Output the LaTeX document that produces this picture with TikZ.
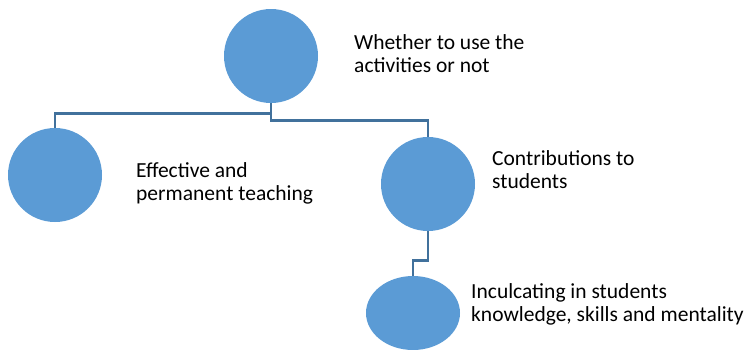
\documentclass[tikz,border=0pt]{standalone}
\usepackage{fontspec}
\setmainfont{Carlito}
\usetikzlibrary{shapes.geometric}
\definecolor{ballblue}{HTML}{5B9BD5}
\definecolor{linkblue}{HTML}{41719C}
\tikzset{
  ball/.style={circle,fill=ballblue,minimum size=94pt,inner sep=0pt},
  oval/.style={ellipse,fill=ballblue,minimum width=94pt,minimum height=74pt,inner sep=0pt},
  link/.style={draw=linkblue,line width=2.6pt},
  caption/.style={anchor=west,align=left,inner sep=0pt,font=\fontsize{21.5}{23}\selectfont}
}
\begin{document}
\begin{tikzpicture}[x=1pt,y=-1pt]
\useasboundingbox (0,0) rectangle (752,349);
\node[ball] (root) at (271,56) {};
\node[ball] (teach) at (55,175) {};
\node[ball] (contrib) at (428,184) {};
\node[oval] (incul) at (413,313) {};
\draw[link] (root.south) -- ++(0,10) -| (teach.north);
\draw[link] (root.south) -- ++(0,17) -| (contrib.north);
\draw[link] (contrib.south) -- ++(0,29) -| (incul.north);
\node[caption] (rootlbl) at (354,54) {Whether to use the\\activities or not};
\node[caption] (teachlbl) at (136,183) {Effective and\\permanent teaching};
\node[caption] (contriblbl) at (492,170) {Contributions to\\students};
\node[caption] (incullbl) at (471,304) {Inculcating in students\\knowledge, skills and mentality};
\end{tikzpicture}
\end{document}
